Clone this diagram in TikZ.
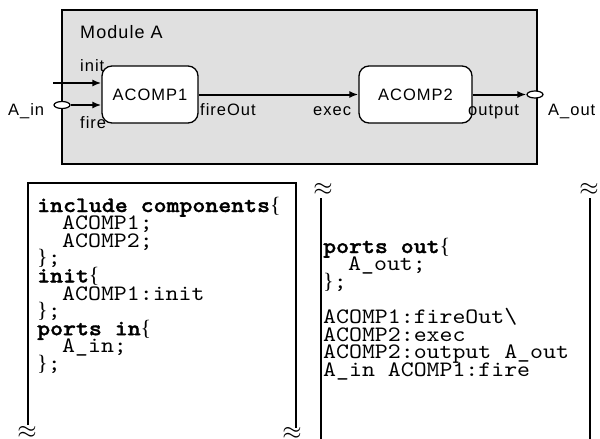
\documentclass[tikz,border=0pt]{standalone}
\usepackage{fontspec}
\setmainfont{Liberation Sans}
\newfontfamily\bracefont{Liberation Serif}
\newfontfamily\lblfont[LetterSpace=6]{Liberation Sans}
\newfontfamily\codefont[FakeStretch=1.12, BoldFont=lmmonolt10-bold.otf, BoldFeatures={FakeBold=1.5}]{lmmono10-regular.otf}
\usetikzlibrary{arrows.meta,shapes.geometric}
\definecolor{modgray}{HTML}{E0E0E0}
\newcommand\cbr[1]{{\bracefont #1}}
\begin{document}
\begin{tikzpicture}[x=1pt,y=-1pt,
 lbl/.style={font=\lblfont\fontsize{16.5}{18}\selectfont, inner sep=0, anchor=base west},
 code/.style={font=\codefont\fontsize{22}{17.6}\selectfont, inner sep=0, anchor=base west},
 comp/.style={draw, line width=1.3pt, fill=white, rounded corners=10pt, font=\lblfont\fontsize{16.5}{18}\selectfont, inner sep=0, minimum height=57pt},
 port/.style={ellipse, draw, line width=1.2pt, fill=white, minimum width=16pt, minimum height=7pt, inner sep=0},
 conn/.style={line width=2pt, -{Latex[length=9pt,width=7pt]}},
 rule/.style={line width=2pt},
 brk/.style={font=\fontsize{28}{28}\selectfont, inner sep=0}]
\useasboundingbox (0,0) rectangle (600,439);

% module
\node[draw, line width=1.3pt, fill=modgray, minimum width=475pt, minimum height=154pt, inner sep=0] (mod) at (299.5,87) {};
\node[lbl, font=\lblfont\fontsize{18}{20}\selectfont] (modlbl) at (80,38) {Module A};

\node[comp, minimum width=96pt] (a1) at (150,94.5) {ACOMP1};
\node[comp, minimum width=113pt] (a2) at (415.5,94.5) {ACOMP2};

\node[port] (ain) at (62,105) {};
\node[port] (aout) at (535,94.5) {};
\coordinate (initsrc) at (53,83);

\draw[conn] (initsrc) -- (initsrc -| a1.west);
\draw[conn] (ain.east) -- (ain -| a1.west);
\draw[conn] (a1.east) -- (a2.west);
\draw[conn] (a2.east) -- (aout.west);

\node[lbl] (linit) at (80,71.5) {init};
\node[lbl] (lfire) at (80,128) {fire};
\node[lbl] (lain) at (8,115) {A\_in};
\node[lbl] (lfo) at (200,115) {fireOut};
\node[lbl] (lexec) at (313,115) {exec};
\node[lbl] (lout) at (468,115) {output};
\node[lbl] (laout) at (548,115) {A\_out};

% left code panel
\draw[rule] (27.5,425) -- (27.5,183) -- (295.5,183) -- (295.5,428);
\node[brk] (b1) at (27,432) {$\approx$};
\node[brk] (b2) at (292,433) {$\approx$};

\node[code] (c0) at (37,212) {\textbf{include components}\cbr{\{}};
\node[code] (c1) at (62,229.6) {ACOMP1;};
\node[code] (c2) at (62,247.2) {ACOMP2;};
\node[code] (c3) at (37,264.8) {\cbr{\}};};
\node[code] (c4) at (37,282.4) {\textbf{init}\cbr{\{}};
\node[code] (c5) at (62,300) {ACOMP1:init};
\node[code] (c6) at (37,317.6) {\cbr{\}};};
\node[code] (c7) at (37,335.2) {\textbf{ports in}\cbr{\{}};
\node[code] (c8) at (62,352.8) {A\_in;};
\node[code] (c9) at (37,370.4) {\cbr{\}};};

% right code panel
\draw[rule] (321,198) -- (321,439);
\draw[rule] (590,198) -- (590,439);
\node[brk] (b3) at (323,189) {$\approx$};
\node[brk] (b4) at (589,189) {$\approx$};

\node[code] (d0) at (323,253) {\textbf{ports out}\cbr{\{}};
\node[code] (d1) at (348,270.6) {A\_out;};
\node[code] (d2) at (323,288.2) {\cbr{\}};};
\node[code] (d3) at (323,323.4) {ACOMP1:fireOut\textbackslash};
\node[code] (d4) at (323,341) {ACOMP2:exec};
\node[code] (d5) at (323,358.6) {ACOMP2:output A\_out};
\node[code] (d6) at (323,376.2) {A\_in ACOMP1:fire};
\end{tikzpicture}
\end{document}
